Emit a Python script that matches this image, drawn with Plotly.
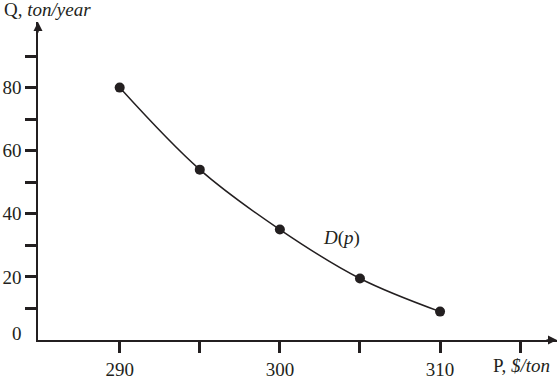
import plotly.graph_objects as go

# Data
price = [290, 295, 300, 305, 310]
quantity = [80, 54, 35, 19.5, 9]

x_tickvals = [290, 295, 300, 305, 310, 315]
x_ticktext = ["290", "", "300", "", "310", ""]
y_tickvals = [10, 20, 30, 40, 50, 60, 70, 80, 90]
y_ticktext = ["", "20", "", "40", "", "60", "", "80", ""]

INK = "#231f20"
FONT = "Liberation Serif"
FS = 19

W, H = 559, 382
L, R, T, B = 36, 2, 22, 40
PW, PH = W - L - R, H - T - B
XR = [284.9, 317.3]
YR = [0, 100.8]

def px(xp):
    return (xp - L) / PW

def py(yp):
    return (H - B - yp) / PH

fig = go.Figure()
fig.add_trace(go.Scatter(
    x=price, y=quantity, mode="lines+markers",
    line=dict(shape="spline", color=INK, width=1.5),
    marker=dict(size=10, color=INK),
    cliponaxis=False, showlegend=False,
))

annotations = [
    dict(text="Q, <i>ton/year</i>", xref="paper", yref="paper", x=px(0), y=py(9),
         xanchor="left", yanchor="middle", showarrow=False, font=dict(size=FS)),
    dict(text="P, <i>$/ton</i>", xref="paper", yref="paper", x=px(491), y=py(368),
         xanchor="left", yanchor="middle", showarrow=False, font=dict(size=FS)),
    dict(text="0", xref="paper", yref="paper", x=px(22), y=py(335),
         xanchor="right", yanchor="middle", showarrow=False, font=dict(size=FS)),
    dict(text="<i>D</i>(<i>p</i>)", xref="paper", yref="paper", x=px(341), y=py(239),
         xanchor="center", yanchor="middle", showarrow=False, font=dict(size=FS)),
    # axis arrowheads
    dict(xref="paper", yref="paper", x=1.0, y=0, ax=-12, ay=0, text="",
         showarrow=True, arrowhead=2, arrowsize=1.2, arrowwidth=1.5, arrowcolor=INK),
    dict(xref="paper", yref="paper", x=0, y=1.0, ax=0, ay=12, text="",
         showarrow=True, arrowhead=2, arrowsize=1.2, arrowwidth=1.5, arrowcolor=INK),
]

fig.update_layout(
    width=W, height=H,
    margin=dict(l=L, r=R, t=T, b=B),
    paper_bgcolor="white", plot_bgcolor="white",
    font=dict(family=FONT, size=FS, color=INK),
    annotations=annotations,
    xaxis=dict(range=XR, tickvals=x_tickvals, ticktext=x_ticktext,
               ticks="outside", ticklen=11, tickwidth=3, tickcolor=INK,
               showline=True, linewidth=1.5, linecolor=INK,
               showgrid=False, zeroline=False, fixedrange=True),
    yaxis=dict(range=YR, tickvals=y_tickvals, ticktext=y_ticktext,
               ticks="outside", ticklen=11, tickwidth=3, tickcolor=INK,
               showline=True, linewidth=1.5, linecolor=INK,
               showgrid=False, zeroline=False, fixedrange=True),
)

fig.write_html("out.html", config={"displayModeBar": False})
